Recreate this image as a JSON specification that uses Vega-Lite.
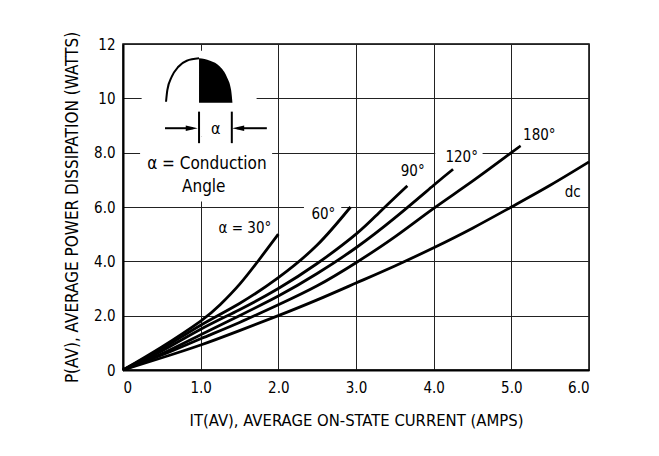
{
  "$schema": "https://vega.github.io/schema/vega-lite/v6.json",
  "width": 466,
  "height": 326,
  "autosize": {"type": "none"},
  "padding": {"left": 123, "top": 44, "right": 70, "bottom": 86},
  "background": "white",
  "config": {
    "font": "DejaVu Sans Condensed, sans-serif",
    "view": {"stroke": "#000", "strokeWidth": 1.5},
    "axis": {
      "grid": true, "gridColor": "#222", "gridWidth": 1, "gridOpacity": 1,
      "ticks": false, "domain": true, "domainColor": "#000", "domainWidth": 2,
      "labelFontSize": 15, "labelColor": "#000", "labelFont": "DejaVu Sans Condensed, sans-serif",
      "titleFontWeight": "normal", "titleColor": "#000", "titleFont": "DejaVu Sans Condensed, sans-serif"
    },
    "axisX": {"labelPadding": 10, "titlePadding": 17, "titleFontSize": 16.5},
    "axisY": {"labelPadding": 8, "titlePadding": 12, "titleFontSize": 17}
  },
  "datasets": {
    "curves": [
      {"curve": "30", "x": 0, "y": 0}, {"curve": "30", "x": 0.5, "y": 0.85}, {"curve": "30", "x": 1.0, "y": 1.8}, {"curve": "30", "x": 1.25, "y": 2.4}, {"curve": "30", "x": 1.5, "y": 3.15}, {"curve": "30", "x": 1.75, "y": 4.05}, {"curve": "30", "x": 2.0, "y": 5.0},
      {"curve": "60", "x": 0, "y": 0}, {"curve": "60", "x": 0.5, "y": 0.78}, {"curve": "60", "x": 1.0, "y": 1.65}, {"curve": "60", "x": 1.5, "y": 2.45}, {"curve": "60", "x": 2.0, "y": 3.4}, {"curve": "60", "x": 2.5, "y": 4.6}, {"curve": "60", "x": 2.93, "y": 6.0},
      {"curve": "90", "x": 0, "y": 0}, {"curve": "90", "x": 0.5, "y": 0.7}, {"curve": "90", "x": 1.0, "y": 1.5}, {"curve": "90", "x": 1.5, "y": 2.22}, {"curve": "90", "x": 2.0, "y": 3.0}, {"curve": "90", "x": 2.5, "y": 3.92}, {"curve": "90", "x": 3.0, "y": 5.0}, {"curve": "90", "x": 3.3, "y": 5.8}, {"curve": "90", "x": 3.66, "y": 6.78},
      {"curve": "120", "x": 0, "y": 0}, {"curve": "120", "x": 0.5, "y": 0.6}, {"curve": "120", "x": 1.0, "y": 1.3}, {"curve": "120", "x": 1.5, "y": 2.0}, {"curve": "120", "x": 2.0, "y": 2.72}, {"curve": "120", "x": 2.5, "y": 3.55}, {"curve": "120", "x": 3.0, "y": 4.5}, {"curve": "120", "x": 3.5, "y": 5.6}, {"curve": "120", "x": 4.0, "y": 6.8}, {"curve": "120", "x": 4.25, "y": 7.39},
      {"curve": "180", "x": 0, "y": 0}, {"curve": "180", "x": 0.5, "y": 0.55}, {"curve": "180", "x": 1.0, "y": 1.15}, {"curve": "180", "x": 1.5, "y": 1.75}, {"curve": "180", "x": 2.0, "y": 2.4}, {"curve": "180", "x": 2.5, "y": 3.1}, {"curve": "180", "x": 3.0, "y": 3.95}, {"curve": "180", "x": 3.5, "y": 4.9}, {"curve": "180", "x": 4.0, "y": 5.95}, {"curve": "180", "x": 4.5, "y": 6.95}, {"curve": "180", "x": 5.0, "y": 8.0}, {"curve": "180", "x": 5.12, "y": 8.25},
      {"curve": "dc", "x": 0, "y": 0}, {"curve": "dc", "x": 0.5, "y": 0.45}, {"curve": "dc", "x": 1.0, "y": 0.92}, {"curve": "dc", "x": 1.5, "y": 1.45}, {"curve": "dc", "x": 2.0, "y": 2.0}, {"curve": "dc", "x": 2.5, "y": 2.58}, {"curve": "dc", "x": 3.0, "y": 3.2}, {"curve": "dc", "x": 3.5, "y": 3.83}, {"curve": "dc", "x": 4.0, "y": 4.5}, {"curve": "dc", "x": 4.5, "y": 5.22}, {"curve": "dc", "x": 5.0, "y": 6.0}, {"curve": "dc", "x": 5.5, "y": 6.8}, {"curve": "dc", "x": 6.0, "y": 7.66}
    ],
    "boxes": [
      {"x": 0.24, "x2": 1.72, "y": 8.6, "y2": 11.75},
      {"x": 0.22, "x2": 1.92, "y": 6.2, "y2": 8.6},
      {"x": 2.33, "x2": 2.81, "y": 5.5, "y2": 6.2},
      {"x": 4.02, "x2": 4.63, "y": 7.55, "y2": 8.2}
    ],
    "curveLabels": [
      {"x": 1.57, "y": 5.23, "text": "α = 30°"},
      {"x": 2.58, "y": 5.74, "text": "60°"},
      {"x": 3.73, "y": 7.32, "text": "90°"},
      {"x": 4.36, "y": 7.85, "text": "120°"},
      {"x": 5.36, "y": 8.65, "text": "180°"},
      {"x": 5.79, "y": 6.56, "text": "dc"}
    ],
    "insetText": [
      {"x": 1.08, "y": 7.57, "text": "α = Conduction"},
      {"x": 1.04, "y": 6.74, "text": "Angle"}
    ],
    "alpha": [
      {"x": 1.195, "y": 8.87, "text": "α"}
    ],
    "arcLeft": [
      {"x": 0.554, "y": 9.875}, {"x": 0.571, "y": 10.306}, {"x": 0.628, "y": 10.795}, {"x": 0.713, "y": 11.163}, {"x": 0.821, "y": 11.384}, {"x": 0.979, "y": 11.472}
    ],
    "arcRight": [
      {"x": 0.979, "y": 11.472}, {"x": 1.121, "y": 11.384}, {"x": 1.25, "y": 11.163}, {"x": 1.336, "y": 10.795}, {"x": 1.392, "y": 10.306}, {"x": 1.409, "y": 9.84}
    ],
    "segments": [
      {"x": 0.541, "x2": 0.9, "y": 8.9, "y2": 8.9},
      {"x": 1.47, "x2": 1.852, "y": 8.9, "y2": 8.9},
      {"x": 0.979, "x2": 0.979, "y": 8.35, "y2": 9.51},
      {"x": 1.401, "x2": 1.401, "y": 8.35, "y2": 9.51}
    ],
    "headsRight": [{"x": 0.885, "y": 8.9}],
    "headsLeft": [{"x": 1.483, "y": 8.9}]
  },
  "encoding": {
    "x": {
      "field": "x", "type": "quantitative",
      "scale": {"domain": [0, 6], "nice": false, "zero": false},
      "axis": {"values": [0, 1, 2, 3, 4, 5, 6], "labelExpr": "datum.value == 0 ? '0' : format(datum.value, '.1f')"},
      "title": "IT(AV), AVERAGE ON-STATE CURRENT (AMPS)"
    },
    "y": {
      "field": "y", "type": "quantitative",
      "scale": {"domain": [0, 12], "nice": false, "zero": false},
      "axis": {"values": [0, 2, 4, 6, 8, 10, 12], "labelExpr": "datum.value == 0 ? '0' : datum.value >= 10 ? format(datum.value, 'd') : format(datum.value, '.1f')"},
      "title": "P(AV), AVERAGE POWER DISSIPATION (WATTS)"
    }
  },
  "layer": [
    {
      "data": {"name": "boxes"},
      "mark": {"type": "rect", "fill": "white", "stroke": null},
      "encoding": {"x2": {"field": "x2"}, "y2": {"field": "y2"}}
    },
    {
      "data": {"name": "curves"},
      "mark": {"type": "line", "color": "#000", "strokeWidth": 2.8, "interpolate": "natural", "strokeCap": "butt"},
      "encoding": {"detail": {"field": "curve", "type": "nominal"}}
    },
    {
      "data": {"name": "arcLeft"},
      "mark": {"type": "line", "color": "#000", "strokeWidth": 2, "interpolate": "monotone"},
      "encoding": {}
    },
    {
      "data": {"name": "arcRight"},
      "mark": {"type": "area", "color": "#000", "interpolate": "monotone"},
      "encoding": {"y2": {"datum": 9.84}}
    },
    {
      "data": {"name": "segments"},
      "mark": {"type": "rule", "color": "#000", "strokeWidth": 2},
      "encoding": {"x2": {"field": "x2"}, "y2": {"field": "y2"}}
    },
    {
      "data": {"name": "headsRight"},
      "mark": {"type": "point", "shape": "M-1,-0.45L1,0L-1,0.45Z", "filled": true, "color": "#000", "size": 144, "opacity": 1},
      "encoding": {}
    },
    {
      "data": {"name": "headsLeft"},
      "mark": {"type": "point", "shape": "M1,-0.45L-1,0L1,0.45Z", "filled": true, "color": "#000", "size": 144, "opacity": 1},
      "encoding": {}
    },
    {
      "data": {"name": "curveLabels"},
      "mark": {"type": "text", "fontSize": 15, "color": "#000", "align": "center", "baseline": "middle"},
      "encoding": {"text": {"field": "text"}}
    },
    {
      "data": {"name": "insetText"},
      "mark": {"type": "text", "fontSize": 17, "color": "#000", "align": "center", "baseline": "middle"},
      "encoding": {"text": {"field": "text"}}
    },
    {
      "data": {"name": "alpha"},
      "mark": {"type": "text", "fontSize": 16, "color": "#000", "align": "center", "baseline": "middle"},
      "encoding": {"text": {"field": "text"}}
    }
  ]
}
